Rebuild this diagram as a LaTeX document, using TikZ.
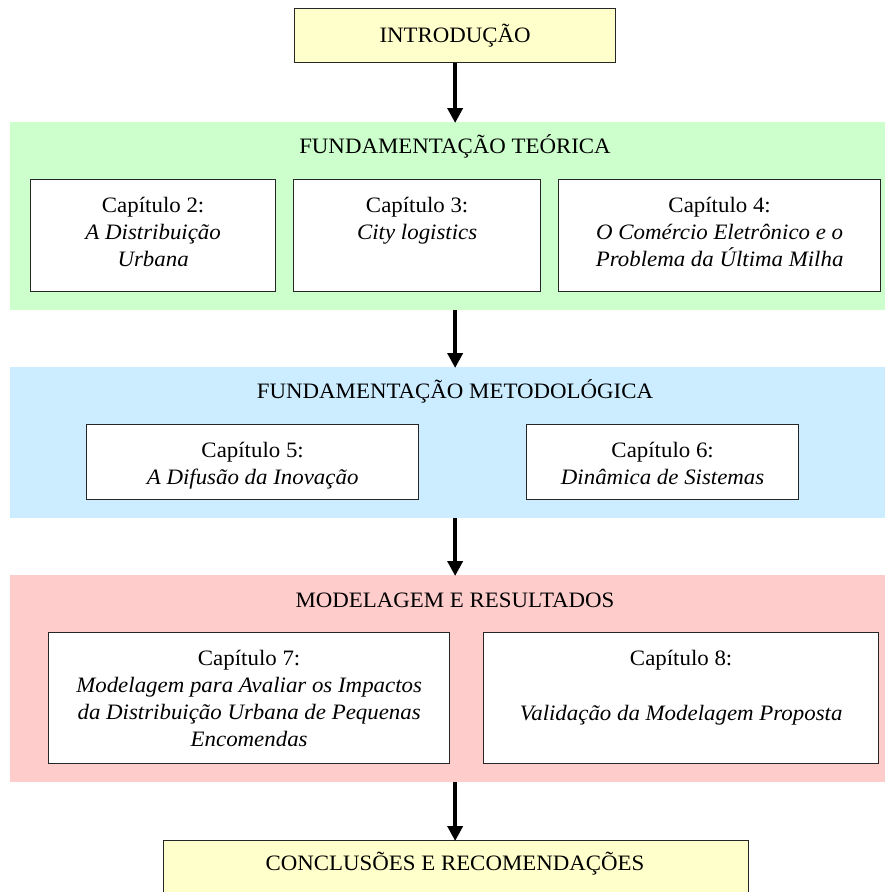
\documentclass[tikz,border=0pt]{standalone}
\usepackage{fontspec}
\setmainfont{Liberation Serif}[FakeStretch=1.04]
\usetikzlibrary{arrows.meta}
\definecolor{introfill}{RGB}{255,255,204}
\definecolor{greenpanel}{RGB}{204,255,204}
\definecolor{bluepanel}{RGB}{204,236,255}
\definecolor{pinkpanel}{RGB}{255,204,204}
\tikzset{
  panel/.style={draw=none, inner sep=0pt, anchor=north west},
  chap/.style={draw=black!85, line width=1.3pt, fill=white, inner sep=0pt, anchor=north west},
  chaptext/.style={inner sep=0pt, align=center, anchor=north, font=\fontsize{22}{27}\selectfont},
  endbox/.style={draw=black!85, line width=1.3pt, fill=introfill, inner sep=0pt, anchor=north west},
  ptitle/.style={font=\fontsize{22}{27}\selectfont, inner sep=0pt},
  flow/.style={line width=4pt, -{Triangle[width=15pt,length=15pt]}, shorten >=-1pt}
}
\begin{document}
\begin{tikzpicture}[x=1pt,y=-1pt]
\useasboundingbox (0,0) rectangle (885,892);
% introduction
\node[endbox, minimum width=321pt, minimum height=54pt] (intro) at (294,8) {};
\node[ptitle] (introt) at (intro.center) {INTRODUÇÃO};
% green panel
\node[panel, fill=greenpanel, minimum width=875pt, minimum height=188pt] (green) at (10,122) {};
\node[ptitle] (greent) at (455,146) {FUNDAMENTAÇÃO TEÓRICA};
\node[chap, minimum width=245pt, minimum height=112pt] (c2) at (30,179) {};
\node[chaptext] (c2t) at ([yshift=-14.5pt]c2.north) {\strut Capítulo 2:\\\textit{A Distribuição}\\\textit{Urbana}};
\node[chap, minimum width=247pt, minimum height=112pt] (c3) at (293,179) {};
\node[chaptext] (c3t) at ([yshift=-14.5pt]c3.north) {\strut Capítulo 3:\\\textit{City logistics}};
\node[chap, minimum width=322pt, minimum height=112pt] (c4) at (558,179) {};
\node[chaptext] (c4t) at ([yshift=-14.5pt]c4.north) {\strut Capítulo 4:\\\textit{O Comércio Eletrônico e o}\\\textit{Problema da Última Milha}};
% blue panel
\node[panel, fill=bluepanel, minimum width=875pt, minimum height=151pt] (blue) at (10,367) {};
\node[ptitle] (bluet) at (455,391) {FUNDAMENTAÇÃO METODOLÓGICA};
\node[chap, minimum width=332pt, minimum height=75pt] (c5) at (86,424) {};
\node[chaptext] (c5t) at ([yshift=-14.5pt]c5.north) {\strut Capítulo 5:\\\textit{A Difusão da Inovação}};
\node[chap, minimum width=272pt, minimum height=75pt] (c6) at (526,424) {};
\node[chaptext] (c6t) at ([yshift=-14.5pt]c6.north) {\strut Capítulo 6:\\\textit{Dinâmica de Sistemas}};
% pink panel
\node[panel, fill=pinkpanel, minimum width=875pt, minimum height=207pt] (pink) at (10,575) {};
\node[ptitle] (pinkt) at (455,600) {MODELAGEM E RESULTADOS};
\node[chap, minimum width=401pt, minimum height=131pt] (c7) at (48,632) {};
\node[chaptext] (c7t) at ([yshift=-14.5pt]c7.north) {\strut Capítulo 7:\\\textit{Modelagem para Avaliar os Impactos}\\\textit{da Distribuição Urbana de Pequenas}\\\textit{Encomendas}};
\node[chap, minimum width=395pt, minimum height=131pt] (c8) at (483,632) {};
\node[chaptext] (c8t) at ([yshift=-14.5pt]c8.north) {\strut Capítulo 8:\\[28pt]\textit{Validação da Modelagem Proposta}};
% conclusions
\node[endbox, minimum width=585pt, minimum height=60pt] (concl) at (163,840) {};
\node[ptitle] (conclt) at (455,864) {CONCLUSÕES E RECOMENDAÇÕES};
% arrows
\draw[flow] (intro.south) -- (intro.south |- green.north);
\draw[flow] (green.south -| intro.south) -- (blue.north -| intro.south);
\draw[flow] (blue.south -| intro.south) -- (pink.north -| intro.south);
\draw[flow] (pink.south -| intro.south) -- (concl.north -| intro.south);
\end{tikzpicture}
\end{document}
